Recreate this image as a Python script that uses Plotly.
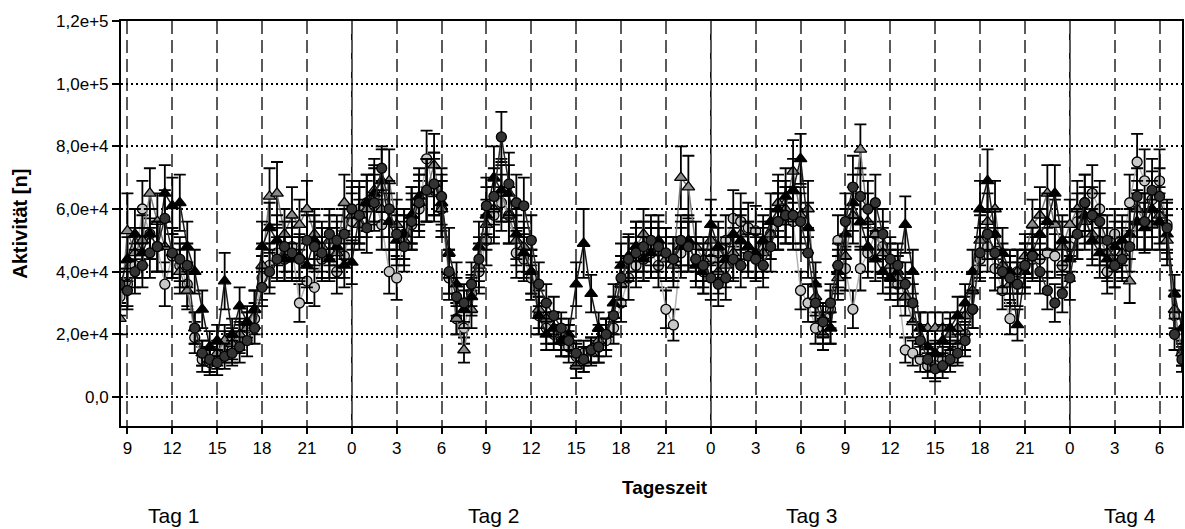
import numpy as np
import plotly.graph_objects as go

# ---------------- data (activity counts, in thousands) ----------------
START_HOUR = 8.5      # first sample: day 1, 08:30
STEP_HOURS = 0.5      # half-hourly samples
UNIT = 1000           # values below are given in thousands

# series 1: light grey circles
light_circles_k = [
    32, 36, 42, 60, 52, 48, 36, 45, 42, 36, 19, 12, 11, 13, 16, 15, 19, 22, 25, 38,
    42, 46, 44, 48, 30, 37, 35, 44, 46, 40, 45,
    56, 60, 62, 64, 55, 40, 38, 52, 55, 60, 76, 66, 60, 38, 25, 22, 33, 40, 50, 58,
    62, 58, 46, 44, 38, 26, 22, 20, 18, 16, 13, 14, 15, 16, 18, 22, 30, 38, 42, 44,
    46, 42, 28, 23, 46, 48, 44, 40,
    44, 46, 50, 57, 56, 54, 53, 48, 52, 56, 58, 56, 34, 30, 22, 22, 28, 50, 41, 28,
    41, 46, 52, 48, 40, 36, 15, 14, 12, 10, 10, 12, 14, 16, 20, 28, 44, 48, 41, 34,
    25, 40, 42, 44, 44, 46, 45, 42,
    48, 56, 62, 65, 60, 40, 52, 48, 62, 75, 69, 63, 69, 55, 26, 14,
]
light_circles_err_k = [
    6, 7, 7, 9, 8, 8, 7, 7, 7, 7, 5, 4, 4, 4, 5, 4, 5, 5, 5, 7,
    7, 8, 7, 8, 6, 7, 6, 7, 8, 7, 7,
    9, 9, 9, 9, 8, 7, 7, 8, 8, 9, 9, 10, 9, 7, 5, 5, 6, 7, 8, 9,
    9, 9, 8, 7, 7, 6, 5, 5, 5, 5, 4, 4, 4, 5, 5, 5, 6, 7, 7, 7,
    8, 7, 6, 5, 8, 8, 7, 7,
    7, 8, 8, 9, 9, 8, 8, 8, 8, 9, 9, 9, 6, 6, 5, 5, 6, 8, 7, 6,
    7, 8, 8, 8, 7, 7, 4, 4, 4, 4, 4, 4, 4, 5, 5, 6, 7, 8, 7, 6,
    5, 7, 7, 7, 7, 8, 7, 7,
    8, 9, 9, 9, 9, 7, 8, 8, 9, 9, 10, 9, 10, 8, 6, 4,
]

# series 2: grey triangles
grey_triangles_k = [
    25, 53, 46, 50, 65, 56, 48, 46, 40, 34, 22, 14, 12, 14, 18, 17, 20, 22, 28, 42,
    64, 65, 52, 58, 55, 60, 52, 48, 50, 46, 62,
    58, 55, 60, 66, 60, 69, 55, 50, 58, 62, 66, 74, 60, 40, 25, 15, 28, 42, 55, 60,
    65, 58, 50, 48, 40, 28, 25, 22, 20, 18, 10, 12, 14, 18, 20, 26, 36, 44, 48, 52,
    48, 46, 44, 42, 70, 67, 48, 44,
    50, 40, 42, 46, 52, 48, 45, 46, 52, 62, 60, 72, 58, 60, 32, 20, 22, 38, 45, 58,
    79, 56, 52, 46, 42, 38, 32, 24, 22, 22, 22, 22, 20, 22, 26, 34, 50, 56, 60, 42,
    36, 40, 45, 55, 58, 65, 55, 48,
    55, 60, 56, 52, 50, 46, 42, 46, 37, 60, 56, 55, 58, 50, 28, 14,
]
grey_triangles_err_k = [
    5, 12, 8, 8, 8, 9, 8, 8, 7, 6, 5, 4, 4, 4, 5, 5, 5, 5, 6, 7,
    9, 10, 8, 9, 8, 9, 8, 8, 8, 8, 9,
    9, 8, 9, 10, 9, 10, 8, 8, 9, 9, 10, 10, 9, 7, 5, 4, 6, 7, 8, 9,
    9, 9, 8, 8, 7, 6, 5, 5, 5, 5, 4, 4, 4, 5, 5, 6, 7, 7, 8, 8,
    8, 8, 7, 7, 10, 10, 8, 7,
    8, 7, 7, 8, 8, 8, 7, 8, 8, 9, 9, 10, 9, 9, 6, 5, 5, 7, 7, 9,
    8, 9, 8, 8, 7, 7, 6, 5, 5, 5, 5, 5, 5, 5, 6, 6, 8, 9, 9, 7,
    7, 7, 7, 8, 9, 9, 8, 8,
    8, 9, 9, 8, 8, 8, 7, 8, 7, 9, 9, 8, 9, 8, 6, 4,
]

# series 3: black triangles
black_triangles_k = [
    35, 44, 52, 46, 52, 48, 65, 61, 62, 48, 40, 28, 16, 18, 37, 20, 29, 24, 28, 48,
    54, 50, 44, 44, 45, 42, 50, 46, 44, 48, 42,
    43, 58, 62, 65, 69, 56, 50, 52, 58, 64, 66, 68, 62, 46, 36, 28, 32, 48, 58, 70,
    66, 65, 52, 46, 40, 26, 20, 22, 18, 20, 36, 49, 33, 22, 20, 30, 42, 45, 48, 44,
    46, 50, 46, 44, 48, 50, 42, 40,
    55, 48, 44, 52, 50, 48, 46, 50, 56, 60, 64, 66, 76, 54, 36, 25, 22, 40, 52, 62,
    56, 48, 44, 40, 38, 40, 55, 40, 22, 16, 14, 18, 22, 26, 30, 40, 60, 69, 52, 46,
    40, 23, 40, 46, 52, 56, 65, 50,
    44, 52, 58, 50, 46, 44, 48, 50, 52, 56, 54, 60, 56, 52, 33, 22,
]
black_triangles_err_k = [
    6, 7, 8, 8, 8, 8, 9, 9, 9, 8, 7, 6, 5, 5, 9, 5, 6, 5, 6, 8,
    8, 8, 7, 7, 7, 7, 8, 8, 7, 8, 7,
    7, 9, 9, 9, 10, 9, 8, 8, 9, 9, 10, 10, 9, 8, 7, 6, 6, 8, 9, 10,
    10, 9, 8, 8, 7, 6, 5, 5, 5, 5, 7, 11, 6, 5, 5, 6, 7, 7, 8, 7,
    8, 8, 8, 7, 8, 8, 7, 7,
    8, 8, 7, 8, 8, 8, 8, 8, 9, 9, 9, 10, 8, 8, 7, 5, 5, 7, 8, 9,
    9, 8, 7, 7, 7, 7, 9, 7, 5, 5, 4, 5, 5, 6, 6, 7, 9, 10, 8, 8,
    7, 5, 7, 8, 8, 9, 9, 8,
    7, 8, 9, 8, 8, 7, 8, 8, 8, 9, 8, 9, 9, 8, 6, 5,
]

# series 4: dark grey circles
dark_circles_k = [
    36, 34, 40, 42, 46, 48, 57, 46, 44, 42, 22, 14, 12, 11, 13, 14, 16, 18, 22, 35,
    40, 44, 48, 46, 44, 50, 48, 46, 52, 50, 52,
    60, 58, 54, 62, 73, 60, 52, 48, 56, 62, 66, 68, 64, 40, 32, 30, 36, 44, 61, 64,
    83, 68, 62, 61, 50, 36, 30, 26, 22, 18, 14, 12, 15, 16, 20, 26, 38, 44, 46, 48,
    50, 48, 46, 44, 50, 48, 44, 42,
    38, 36, 38, 44, 42, 45, 44, 42, 48, 56, 58, 58, 56, 46, 30, 24, 30, 42, 56, 67,
    64, 60, 62, 52, 44, 42, 36, 30, 18, 12, 9, 10, 12, 14, 18, 28, 46, 52, 46, 40,
    38, 36, 42, 45, 40, 34, 30, 33,
    38, 52, 62, 58, 56, 50, 42, 44, 48, 64, 56, 66, 64, 54, 20, 12,
]
dark_circles_err_k = [
    7, 6, 7, 7, 8, 8, 9, 8, 7, 7, 5, 4, 4, 4, 4, 4, 5, 5, 5, 6,
    7, 7, 8, 8, 7, 8, 8, 8, 8, 8, 8,
    9, 9, 8, 9, 7, 9, 8, 8, 9, 9, 10, 10, 9, 7, 6, 6, 7, 7, 9, 9,
    8, 10, 9, 9, 8, 7, 6, 6, 5, 5, 4, 4, 4, 5, 5, 6, 7, 7, 8, 8,
    8, 8, 8, 7, 8, 8, 7, 7,
    7, 7, 7, 7, 7, 7, 7, 7, 8, 9, 9, 9, 9, 8, 6, 5, 6, 7, 9, 10,
    9, 9, 9, 8, 7, 7, 7, 6, 5, 4, 4, 4, 4, 4, 5, 6, 8, 8, 8, 7,
    7, 7, 7, 7, 7, 6, 6, 6,
    7, 8, 9, 9, 9, 8, 7, 7, 8, 9, 9, 10, 9, 8, 5, 4,
]

y_tick_values = [0, 20000, 40000, 60000, 80000, 100000, 120000]
y_tick_labels = ["0,0", "2,0e+4", "4,0e+4", "6,0e+4", "8,0e+4", "1,0e+5", "1,2e+5"]
x_tick_values = list(range(9, 79, 3))          # continuous hours since day-1 midnight
x_tick_labels = [str(h % 24) for h in x_tick_values]
day_boundaries = [24, 48, 72]
day_labels = ["Tag 1", "Tag 2", "Tag 3", "Tag 4"]
day_label_x = [12.1, 33.5, 54.7, 76.0]

# ---------------- figure ----------------
n = len(light_circles_k)
hours = START_HOUR + STEP_HOURS * np.arange(n)

FONT = "Liberation Sans, Arial, sans-serif"

series = [
    (light_circles_k, light_circles_err_k, "circle", "#c8c8c8", "#b4b4b4", 10),
    (grey_triangles_k, grey_triangles_err_k, "triangle-up", "#8a8a8a", "#7a7a7a", 11),
    (black_triangles_k, black_triangles_err_k, "triangle-up", "#000000", "#1a1a1a", 11),
    (dark_circles_k, dark_circles_err_k, "circle", "#333333", "#2a2a2a", 10),
]

fig = go.Figure()
for vals, errs, sym, fill, lcol, msize in series:
    fig.add_trace(go.Scatter(
        x=hours,
        y=np.array(vals) * UNIT,
        mode="lines+markers",
        line=dict(color=lcol, width=1.5),
        marker=dict(symbol=sym, size=msize, color=fill,
                    line=dict(color="#000000", width=1.3)),
        error_y=dict(type="data", array=np.array(errs) * UNIT, symmetric=True,
                     color="#000000", thickness=1.8, width=6),
        showlegend=False,
        hoverinfo="skip",
    ))

# solid day boundary lines
for b in day_boundaries:
    fig.add_shape(type="line", xref="x", yref="paper", x0=b, x1=b, y0=0, y1=1,
                  line=dict(color="#000000", width=1.5), layer="below")

# day labels
for lab, xv in zip(day_labels, day_label_x):
    fig.add_annotation(text=lab, x=xv, xref="x", y=-0.222, yref="paper",
                       showarrow=False, xanchor="center", yanchor="middle",
                       font=dict(family=FONT, size=21, color="#000000"))

# axis titles
fig.add_annotation(text="<b>Tageszeit</b>", x=(666 - 121) / 1063, xref="paper",
                   y=-0.153, yref="paper", showarrow=False,
                   xanchor="center", yanchor="middle",
                   font=dict(family=FONT, size=19, color="#000000"))
fig.add_annotation(text="<b>Aktivität [n]</b>", x=-(121 - 19) / 1063, xref="paper",
                   y=0.5, yref="paper", showarrow=False, textangle=-90,
                   xanchor="center", yanchor="middle",
                   font=dict(family=FONT, size=20, color="#000000"))

fig.update_layout(
    width=1185, height=529,
    margin=dict(l=121, r=1, t=21, b=103),
    paper_bgcolor="white", plot_bgcolor="white",
    font=dict(family=FONT, size=17, color="#000000"),
    xaxis=dict(
        range=[8.57, 79.5],
        tickmode="array", tickvals=x_tick_values, ticktext=x_tick_labels,
        ticks="outside", ticklen=6, tickwidth=1.5, tickcolor="#000000",
        showline=True, linecolor="#000000", linewidth=2, mirror=True,
        showgrid=True, gridcolor="#5a5a5a", gridwidth=1.5, griddash="13px,6px",
        zeroline=False,
        tickfont=dict(family=FONT, size=17),
    ),
    yaxis=dict(
        range=[-9250, 120000],
        tickmode="array", tickvals=y_tick_values, ticktext=y_tick_labels,
        ticks="outside", ticklen=7, tickwidth=1.5, tickcolor="#000000",
        showline=True, linecolor="#000000", linewidth=2, mirror=True,
        showgrid=True, gridcolor="#000000", gridwidth=1.5, griddash="2px,3px",
        zeroline=False,
        tickfont=dict(family=FONT, size=17),
    ),
)

fig.write_html(
    "out.html",
    config={"displayModeBar": False},
    post_script="document.body.style.margin='0';document.body.style.overflow='hidden';",
)
